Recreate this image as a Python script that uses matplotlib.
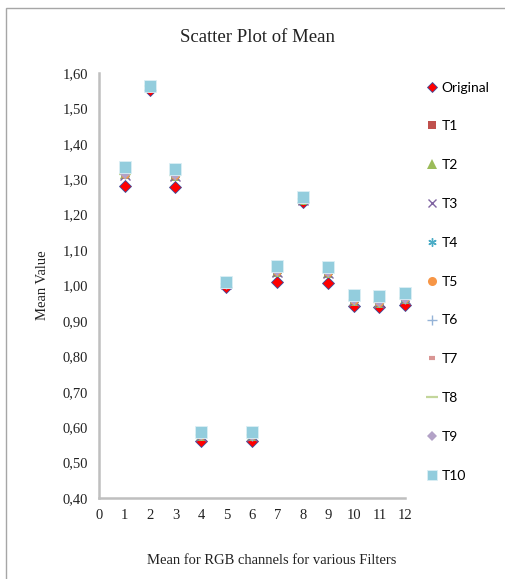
import matplotlib
matplotlib.use("Agg")
import matplotlib.pyplot as plt
from matplotlib.patches import Rectangle
from matplotlib.lines import Line2D
from matplotlib.ticker import FuncFormatter

x = [1, 2, 3, 4, 5, 6, 7, 8, 9, 10, 11, 12]

original = [1.282, 1.551, 1.279, 0.560, 0.995, 0.562, 1.010, 1.236, 1.007, 0.941, 0.938, 0.945]
t1 = [1.312, 1.560, 1.308, 0.575, 1.003, 0.574, 1.037, 1.241, 1.035, 0.955, 0.950, 0.960]
t2 = [1.314, 1.561, 1.310, 0.576, 1.004, 0.575, 1.039, 1.242, 1.036, 0.957, 0.952, 0.962]
t3 = [1.313, 1.560, 1.309, 0.576, 1.004, 0.575, 1.038, 1.242, 1.036, 0.956, 0.951, 0.961]
t4 = [1.315, 1.561, 1.311, 0.577, 1.004, 0.576, 1.040, 1.243, 1.037, 0.958, 0.953, 0.963]
t5 = [1.316, 1.562, 1.312, 0.578, 1.005, 0.577, 1.041, 1.243, 1.038, 0.959, 0.954, 0.964]
t6 = [1.315, 1.561, 1.311, 0.577, 1.004, 0.576, 1.040, 1.243, 1.037, 0.958, 0.953, 0.963]
t7 = [1.314, 1.560, 1.310, 0.577, 1.004, 0.575, 1.039, 1.242, 1.036, 0.957, 0.952, 0.962]
t8 = [1.316, 1.562, 1.312, 0.578, 1.005, 0.577, 1.041, 1.243, 1.038, 0.959, 0.954, 0.964]
t9 = [1.315, 1.561, 1.311, 0.577, 1.004, 0.576, 1.040, 1.243, 1.037, 0.958, 0.953, 0.963]
t10 = [1.334, 1.562, 1.330, 0.586, 1.010, 0.586, 1.055, 1.249, 1.053, 0.973, 0.970, 0.980]

labels = ["Original", "T1", "T2", "T3", "T4", "T5", "T6", "T7", "T8", "T9", "T10"]
series = [original, t1, t2, t3, t4, t5, t6, t7, t8, t9, t10]

# (marker, plot size in points, colour, edge colour, edge width, legend size)
styles = [
    ("D", 6.5, "#FF0000", "#3A4FA0", 0.6, 5.0),
    ("s", 6.0, "#C0504D", "none", 0.0, 6.0),
    ("^", 6.5, "#9BBB59", "none", 0.0, 6.5),
    ("x", 6.5, "#8064A2", "#8064A2", 1.0, 6.0),
    ((6, 2, 0), 6.5, "#4BACC6", "#4BACC6", 1.0, 6.0),
    ("o", 6.5, "#F79646", "none", 0.0, 6.5),
    ("+", 7.0, "#95B3D7", "#95B3D7", 1.0, 7.0),
    ("_", 5.0, "#D99694", "#D99694", 3.0, 5.0),
    ("_", 9.0, "#C3D69B", "#C3D69B", 1.6, 8.0),
    ("D", 5.5, "#B3A2C7", "none", 0.0, 5.0),
    ("s", 9.0, "#93CDDD", "#DCEFF5", 0.6, 7.0),
]

fig = plt.figure(figsize=(5.06, 5.79), dpi=100)
W, H = 506, 579

# chart frame (only left and top edges fall inside the canvas)
fig.patches.append(Rectangle((6 / W, -0.5), 2, 1.5 - 8 / H, transform=fig.transFigure,
                             fill=False, edgecolor="#A6A6A6", linewidth=1.0))

ax = fig.add_axes([99 / W, 1 - 498 / H, (405 - 99) / W, (498 - 73) / H])
handles = []
for vals, lab, (m, ms, c, ec, ew, lms) in zip(series, labels, styles):
    ax.plot(x, vals, linestyle="none", marker=m, markersize=ms, color=c,
            markerfacecolor=c, markeredgecolor=(c if ec == "none" else ec),
            markeredgewidth=ew, zorder=3, clip_on=False)
    handles.append(Line2D([], [], linestyle="none", marker=m, markersize=lms, color=c,
                          markerfacecolor=c, markeredgecolor=(c if ec == "none" else ec),
                          markeredgewidth=ew))

ax.set_xlim(0, 12)
ax.set_ylim(0.40, 1.60)
ax.set_xticks(range(0, 13))
ax.set_yticks([0.4 + 0.1 * i for i in range(13)])
ax.yaxis.set_major_formatter(FuncFormatter(lambda v, p: f"{v:.2f}".replace(".", ",")))

for side in ("top", "right"):
    ax.spines[side].set_visible(False)
for side in ("left", "bottom"):
    ax.spines[side].set_color("#BFBFBF")
    ax.spines[side].set_linewidth(1.8)
ax.tick_params(length=0, labelsize=10.5, pad=8)
for t in ax.get_xticklabels() + ax.get_yticklabels():
    t.set_fontfamily("Liberation Serif")
    t.set_color("#222222")

fig.text(258 / W, 1 - 38 / H, "Scatter Plot of Mean", ha="center", va="center",
         fontsize=13.5, family="Liberation Serif", color="#222222")
fig.text(272 / W, 1 - 560 / H, "Mean for RGB channels for various Filters", ha="center",
         va="center", fontsize=10.5, family="Liberation Serif", color="#222222")
fig.text(42 / W, 1 - 285 / H, "Mean Value", ha="center", va="center", rotation=90,
         fontsize=10.5, family="Liberation Serif", color="#222222")

fig.legend(handles=handles, labels=labels, loc="upper left",
           bbox_to_anchor=(421 / W, 1 - 76 / H), frameon=False,
           prop={"family": "Lato", "size": 10}, labelspacing=1.93,
           handlelength=0.8, handletextpad=0.3, borderaxespad=0)

fig.savefig("out.png", dpi=100)
